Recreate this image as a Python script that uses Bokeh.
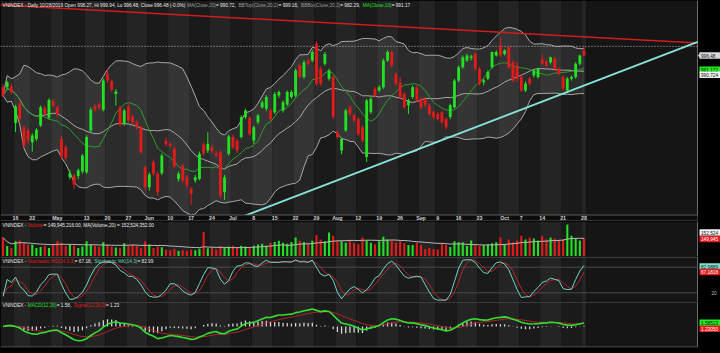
import pandas as pd
from bokeh.plotting import figure
from bokeh.layouts import column
from bokeh.models import Range1d
from bokeh.embed import file_html
from bokeh.resources import INLINE
from bokeh.core.properties import value

# ---------------- data ----------------
holidays = ["2019-04-15", "2019-04-30", "2019-05-01", "2019-09-02"]
dates = [d for d in pd.bdate_range("2019-04-10", "2019-10-28")
         if d.strftime("%Y-%m-%d") not in holidays]

opens = [984.3, 984.3, 984.6, 970.5, 977.9, 968.9, 967.6, 963.1, 964.4, 969.6,
         976.2, 972.5, 978.9, 976.6, 964.4, 961.2, 949.7, 950.3, 950.1, 951.9,
         951.6, 967.6, 976.9, 977.6, 975.6, 989.4, 986.6, 981.7, 976.4, 970.2,
         976.9, 973.0, 970.8, 968.9, 953.5, 945.8, 955.5, 951.0, 951.2, 963.8,
         962.5, 960.6, 949.0, 954.2, 949.7, 945.2, 948.4, 949.0, 962.3, 959.9,
         961.2, 958.9, 959.3, 943.9, 958.7, 965.1, 963.8, 965.1, 972.8, 972.5,
         963.8, 970.8, 976.6, 976.0, 975.3, 974.7, 981.1, 975.3, 977.6, 980.5,
         981.1, 992.6, 988.2, 994.6, 994.6, 1001.0, 991.4, 993.3, 987.5, 988.2,
         967.0, 959.9, 967.6, 976.6, 973.4, 972.1, 968.9, 957.4, 974.7, 983.7,
         983.0, 984.3, 994.6, 997.8, 989.4, 986.2, 981.7, 977.3, 980.5, 984.3,
         979.8, 979.8, 977.3, 974.7, 974.0, 974.7, 972.1, 972.8, 976.6, 986.9,
         992.0, 994.6, 995.5, 997.1, 991.4, 986.2, 987.5, 992.0, 996.5, 1000.3,
         997.1, 999.7, 993.9, 992.5, 988.2, 983.0, 987.5, 988.8, 988.2, 994.8,
         994.2, 993.9, 995.2, 991.4, 988.2, 983.0, 987.5, 988.2, 993.3, 998.27]
highs = [985.5, 986.8, 985.8, 977.5, 979.0, 969.8, 968.5, 966.5, 968.5, 977.2,
         977.0, 980.0, 979.8, 977.2, 965.5, 962.0, 952.5, 951.0, 953.0, 958.6,
         965.8, 976.5, 977.8, 978.5, 987.5, 991.2, 987.2, 983.5, 977.2, 976.0,
         977.6, 973.8, 971.5, 969.5, 954.2, 951.5, 956.5, 952.0, 958.8, 965.0,
         963.2, 961.5, 951.8, 955.0, 950.5, 946.0, 950.5, 959.5, 963.0, 967.0,
         962.2, 959.8, 960.0, 950.5, 966.0, 966.0, 964.5, 973.5, 976.0, 973.2,
         969.5, 974.0, 979.2, 981.2, 976.0, 982.4, 983.0, 979.2, 983.0, 983.2,
         991.4, 993.4, 994.6, 995.3, 998.5, 1002.0, 992.2, 997.8, 991.4, 988.9,
         967.8, 964.8, 976.0, 977.3, 974.0, 972.8, 969.6, 979.8, 980.5, 984.4,
         985.0, 995.3, 998.5, 998.5, 990.0, 988.2, 982.4, 979.8, 985.0, 985.0,
         980.5, 980.5, 978.0, 975.4, 974.7, 975.4, 972.8, 977.9, 987.5, 992.6,
         996.5, 997.2, 996.8, 997.8, 992.0, 987.5, 990.8, 998.0, 998.5, 1003.5,
         998.9, 1000.3, 994.6, 994.0, 988.9, 986.5, 988.2, 991.0, 991.8, 997.0,
         995.0, 996.0, 996.0, 992.0, 988.8, 988.2, 988.8, 993.9, 996.8, 999.94]
lows = [980.5, 983.5, 981.5, 967.0, 971.0, 961.0, 962.5, 959.5, 963.5, 969.0,
        973.2, 971.8, 976.5, 973.0, 956.8, 956.0, 948.8, 945.0, 949.0, 951.0,
        951.0, 967.0, 974.8, 975.5, 975.0, 986.0, 982.5, 977.2, 969.0, 969.5,
        970.8, 970.0, 968.0, 958.5, 944.8, 944.5, 950.0, 942.5, 950.5, 961.5,
        961.0, 953.0, 948.0, 947.5, 945.5, 938.8, 947.5, 948.5, 958.0, 959.0,
        959.0, 957.2, 941.5, 941.0, 958.0, 960.5, 959.0, 964.5, 972.0, 965.5,
        962.5, 970.0, 976.0, 975.2, 971.2, 974.0, 980.2, 974.5, 977.0, 979.8,
        980.5, 987.5, 987.5, 992.5, 994.0, 984.8, 984.8, 992.6, 986.8, 972.0,
        964.4, 958.5, 967.0, 973.2, 970.8, 965.5, 963.0, 955.5, 974.0, 980.4,
        982.4, 983.6, 994.0, 991.9, 984.8, 979.8, 975.8, 974.0, 979.8, 978.5,
        975.8, 976.5, 973.2, 972.0, 971.4, 970.0, 968.0, 972.0, 976.0, 986.2,
        991.4, 994.0, 994.6, 990.8, 985.0, 985.0, 987.0, 991.4, 996.0, 996.0,
        996.5, 991.4, 986.2, 986.2, 982.4, 982.4, 985.0, 988.0, 987.5, 993.0,
        992.0, 993.0, 990.6, 988.8, 982.8, 982.0, 986.8, 987.5, 992.6, 996.48]
closes = [981.1, 986.2, 982.4, 976.9, 972.1, 961.9, 963.8, 965.7, 967.9, 976.6,
          974.0, 979.4, 977.3, 973.8, 957.4, 957.1, 951.2, 946.9, 952.3, 958.0,
          965.1, 975.6, 975.6, 976.4, 986.9, 986.9, 983.3, 982.6, 969.8, 975.3,
          971.5, 970.8, 968.9, 959.3, 945.8, 950.7, 951.0, 943.9, 958.0, 962.3,
          961.9, 953.8, 951.0, 948.4, 946.5, 943.3, 949.7, 958.7, 958.9, 962.5,
          959.7, 958.0, 942.6, 949.7, 965.3, 961.2, 959.9, 972.8, 975.3, 966.3,
          968.9, 973.4, 978.5, 980.5, 972.1, 981.7, 982.4, 978.5, 982.4, 982.4,
          990.7, 988.2, 993.9, 993.3, 997.8, 985.6, 985.6, 997.1, 990.7, 972.8,
          965.1, 964.4, 975.3, 974.0, 971.5, 966.3, 963.8, 979.2, 979.8, 981.1,
          984.3, 994.6, 997.8, 992.6, 985.6, 980.5, 976.6, 979.2, 984.3, 979.2,
          976.6, 977.3, 974.0, 972.8, 972.1, 970.8, 968.9, 977.3, 986.9, 992.0,
          995.8, 996.5, 996.1, 991.4, 985.6, 987.0, 990.1, 997.8, 997.8, 996.5,
          998.4, 992.0, 986.9, 987.5, 983.0, 985.6, 985.6, 990.7, 991.4, 993.3,
          992.6, 995.8, 991.4, 989.4, 983.7, 987.5, 988.2, 993.3, 996.5, 996.48]
volumes = [155, 110, 100, 135, 140, 125, 115, 118, 100, 105, 112, 100, 118, 135, 128,
           110, 118, 112, 100, 108, 135, 118, 112, 106, 130, 118, 108, 102, 98, 125,
           112, 118, 112, 98, 135, 118,
           100, 108, 104, 92, 88, 96, 84, 88, 84, 92, 88, 96, 184, 98,
           100, 92, 112, 104, 108, 112,
           104, 112, 108, 104, 112, 118, 122, 112, 128, 132, 138, 128, 122, 132,
           155, 138, 132, 122, 138, 168,
           145, 135, 182, 165, 140, 135, 128, 140, 125, 120, 155, 140, 128, 120,
           135, 160, 145, 140, 128, 135, 125, 115, 115, 128, 115,
           95, 100, 95, 92, 125, 115, 105, 135, 130, 130, 110, 140, 120, 110,
           115, 120, 125, 130, 155, 120,
           145, 130, 140, 165, 145, 155, 150, 140, 165, 145, 155, 150, 140, 145,
           224, 165, 150, 140, 149.9]  # millions of shares

tick_dates = ["2019-04-16", "2019-04-22", "2019-05-02", "2019-05-13", "2019-05-20",
              "2019-05-27", "2019-06-03", "2019-06-10", "2019-06-17", "2019-06-24",
              "2019-07-01", "2019-07-08", "2019-07-15", "2019-07-22", "2019-07-29",
              "2019-08-05", "2019-08-12", "2019-08-19", "2019-08-26", "2019-09-03",
              "2019-09-09", "2019-09-16", "2019-09-23", "2019-10-01", "2019-10-07",
              "2019-10-14", "2019-10-21", "2019-10-28"]
tick_labels = ["16", "22", "May", "13", "20", "27", "Jun", "10", "17", "24", "Jul",
               "8", "15", "22", "29", "Aug", "12", "19", "26", "Sep", "9", "16", "23",
               "Oct", "7", "14", "21", "28"]

resist_level = 1000.0
red_trend_x = [-0.6, 166.2]
red_trend_y = [1015.9, 1001.3]
cyan_trend_x = [54.9, 166.2]
cyan_trend_y = [933.0, 1001.7]

# ---------------- indicators ----------------
n = len(dates)
idx = list(range(n))
c = pd.Series(closes)
hi = pd.Series(highs)
lo = pd.Series(lows)
ma10 = c.rolling(10, min_periods=1).mean()
ma20 = c.rolling(20, min_periods=1).mean()
sd20 = c.rolling(20, min_periods=1).std(ddof=0).fillna(0)
bb_up = ma20 + 2 * sd20
bb_lo = ma20 - 2 * sd20
hh = hi.rolling(14, min_periods=1).max()
ll = lo.rolling(14, min_periods=1).min()
rawk = 100 * (c - ll) / (hh - ll).replace(0, 1)
stk = rawk.rolling(3, min_periods=1).mean()
std_ = stk.rolling(3, min_periods=1).mean()
ema12 = c.ewm(span=12, adjust=False).mean()
ema26 = c.ewm(span=26, adjust=False).mean()
macd = ema12 - ema26
signal = macd.ewm(span=9, adjust=False).mean()
hist = macd - signal
vol = pd.Series(volumes)
vma = vol.rolling(20, min_periods=1).mean()

# ---------------- layout helpers ----------------
def px2i(px):
    return (px - 2.5) / 4.18

def pmain(y):
    return 996.48 - (y - 55) / 2.6

def pvol(y):
    return 60 + 5.3 * (255 - y)

def pst(y):
    return 80 - (y - 266.7) / 0.4267

def pmacd(y):
    return (326 - y) / 2.1

XS, XE = px2i(0), px2i(720)
END = px2i(697)
xr = Range1d(XS, XE)
FONT = value("Liberation Sans")

AW = {' ': 278, '!': 278, '%': 889, '(': 333, ')': 333, ',': 278, '-': 333,
      '.': 278, '/': 278, '=': 584, ':': 278}
for ch in "0123456789":
    AW[ch] = 556
AW.update(dict(A=667, B=667, C=722, D=722, E=667, F=611, G=778, H=722, I=278,
               J=500, K=667, L=556, M=833, N=722, O=778, P=667, Q=778, R=722,
               S=667, T=611, U=722, V=667, W=944, X=667, Y=667, Z=611))
AW.update(dict(a=556, b=556, c=500, d=556, e=556, f=278, g=556, h=556, i=222,
               j=222, k=500, l=222, m=833, n=556, o=556, p=556, q=556, r=333,
               s=500, t=278, u=556, v=500, w=722, x=500, y=500, z=500))

def em(s):
    return sum(AW.get(ch, 556) for ch in s) / 1000.0

WHITE = "#e8e8e8"
GRAY = "#9a9a9a"
GREEN = "#22e022"
RED = "#e21a1a"
TEAL = "#6fd6c4"

main_title = [("VNINDEX - Daily 10/28/2019 Open 998.27, Hi 999.94, Lo 996.48, Close 996.48 (-0.0%) ", WHITE),
              ("MA(Close,20)", GRAY), (" = 990.72, ", WHITE),
              ("BBTop(Close,20,2)", GRAY), (" = 999.16, ", WHITE),
              ("BBBot(Close,20,2)", GRAY), (" = 982.29, ", WHITE),
              ("MA(Close,10)", GREEN), (" = 991.17", WHITE)]
FS = 409.0 / sum(em(s) for s, _ in main_title)
FSS = "%.2fpx" % FS

def add_title(p, pieces, yd):
    xs, ts, cs = [], [], []
    x = 2.0
    for s, col in pieces:
        xs.append(px2i(x)); ts.append(s); cs.append(col)
        x += em(s) * FS
    p.text(x=xs, y=[yd] * len(xs), text=ts, text_color=cs, text_font=FONT,
           text_font_size=FSS, text_baseline="middle", text_align="left")

def mkfig(h, f, ytop, ybot, bottom=0):
    p = figure(width=720, height=h + bottom, x_range=xr,
               y_range=Range1d(f(ybot), f(ytop)), output_backend="svg",
               toolbar_location=None, x_axis_location=None, y_axis_location=None,
               min_border=0, min_border_bottom=bottom)
    p.grid.visible = False
    p.background_fill_color = "#000000"
    p.border_fill_color = "#000000"
    p.outline_line_color = None
    return p

# weekly alternating background bands
wk = [d.isocalendar()[1] for d in dates]
groups = []
s0 = 0
for k in range(1, n + 1):
    if k == n or wk[k] != wk[k - 1]:
        groups.append((s0, k - 1))
        s0 = k
band_cols = ["#1a1a1a", "#242424"]

def add_bands(p, yb, yt):
    L, R, C = [], [], []
    for g, (a, b) in enumerate(groups):
        L.append(XS if g == 0 else a - 0.5)
        R.append(b + 0.5)
        C.append(band_cols[g % 2])
    L.append(n - 0.5); R.append(END); C.append("#151515")
    L.append(END); R.append(XE); C.append("#000000")
    p.quad(left=L, right=R, bottom=yb, top=yt, fill_color=C, line_color=None)
    p.segment(x0=[END], x1=[END], y0=[yb], y1=[yt], line_color="#6a6a6a", line_width=1)

def add_box(p, f, ypix, text, bg, fg):
    p.quad(left=[px2i(699)], right=[px2i(724)], bottom=[f(ypix + 3.2)],
           top=[f(ypix - 3.2)], fill_color=bg, line_color=None)
    p.text(x=[px2i(700.5)], y=[f(ypix)], text=[text], text_color=fg, text_font=FONT,
           text_font_size=FSS, text_baseline="middle", text_align="left")

up = [closes[i] >= opens[i] for i in idx]
ccol = [GREEN if u else RED for u in up]

# ---------------- main price panel ----------------
pm = mkfig(221, pmain, 0, 221)
add_bands(pm, pmain(221), pmain(0))
pm.varea(x=idx, y1=bb_lo, y2=bb_up, fill_color="#ffffff", fill_alpha=0.08)
pm.line(idx, bb_up, line_color="#a8a8a8", line_width=1)
pm.line(idx, bb_lo, line_color="#a8a8a8", line_width=1)
pm.line(idx, ma20, line_color="#a8a8a8", line_width=1)
pm.line(idx, ma10, line_color="#2f9a2f", line_width=1)
pm.segment(x0=[XS], x1=[END], y0=[resist_level], y1=[resist_level],
           line_color="#bbbbbb", line_dash="1 2", line_width=1)
pm.segment(x0=idx, x1=idx, y0=lows, y1=highs, line_color=ccol, line_width=1)
bot = [min(opens[i], closes[i]) for i in idx]
top = [max(opens[i], closes[i]) + (0.3 if abs(opens[i] - closes[i]) < 0.3 else 0) for i in idx]
pm.vbar(x=idx, width=0.68, bottom=bot, top=top, fill_color=ccol, line_color=None)
pm.line(red_trend_x, red_trend_y, line_color="#d01e1e", line_width=1.5)
pm.line(cyan_trend_x, cyan_trend_y, line_color="#86e3da", line_width=2)
# date strip
pm.quad(left=[XS], right=[END], bottom=[pmain(221)], top=[pmain(214.5)],
        fill_color="#0c0c0c", line_color=None)
pm.segment(x0=[XS, XS], x1=[END, END], y0=[pmain(214.5), pmain(220.5)],
           y1=[pmain(214.5), pmain(220.5)], line_color="#5a5a5a", line_width=1)
date_index = {d.strftime("%Y-%m-%d"): i for i, d in enumerate(dates)}
tx = [date_index[t] for t in tick_dates]
pm.text(x=tx, y=[pmain(217.8)] * len(tx), text=tick_labels, text_color="#d0d0d0",
        text_font=FONT, text_font_size="5.3px", text_font_style="bold",
        text_baseline="middle", text_align="center")
add_title(pm, main_title, pmain(4.5))
# right price labels
pm.patch(x=[px2i(697.5), px2i(700), px2i(700)],
         y=[pmain(55), pmain(51.8), pmain(58.2)], fill_color="#d8d8d8", line_color=None)
add_box(pm, pmain, 55, "996.48", "#d8d8d8", "#111111")
add_box(pm, pmain, 69.3, "991.172", "#22ee22", "#111111")
add_box(pm, pmain, 74.3, "990.724", "#f0f0f0", "#111111")

# ---------------- volume panel ----------------
pv = mkfig(35, pvol, 221, 256)
add_bands(pv, pvol(256), pvol(221))
pv.vbar(x=idx, width=0.5, bottom=0, top=volumes, fill_color=ccol, line_color=None)
pv.line(idx, vma, line_color="#b8b8b8", line_width=1)
add_title(pv, [("VNINDEX - ", WHITE), ("Volume", RED),
               (" = 149,945,216.00, MA(Volume,20) = 152,524,352.00", WHITE)], pvol(224.5))
add_box(pv, pvol, 232, "152,524", "#f0f0f0", "#111111")
add_box(pv, pvol, 238.5, "149,945", "#e21a1a", "#ffffff")

# ---------------- stochastic panel ----------------
ps = mkfig(45, pst, 256, 301)
add_bands(ps, pst(301), pst(256))
ps.segment(x0=[XS, XS, XS], x1=[END, END, END], y0=[80, 20, pst(256.5)],
           y1=[80, 20, pst(256.5)], line_color=["#4a4a4a", "#4a4a4a", "#5a5a5a"], line_width=1)
ps.line(idx, std_, line_color="#b3242a", line_width=1)
ps.line(idx, stk, line_color=TEAL, line_width=1)
add_title(ps, [("VNINDEX - ", WHITE), ("Stochastic %D(14,3,3)", RED), (" = 67.18, ", WHITE),
               ("Stochastic %K(14,3)", TEAL), (" = 82.99", WHITE)], pst(260.5))
add_box(ps, pst, 266, "82.9889", "#7fe0cf", "#111111")
add_box(ps, pst, 271.5, "67.1818", "#e21a1a", "#ffffff")
ps.text(x=[px2i(711)], y=[20], text=["20"], text_color="#bbbbbb", text_font=FONT,
        text_font_size=FSS, text_baseline="middle", text_align="left")

# ---------------- MACD panel ----------------
pd_ = mkfig(46, pmacd, 301, 347, bottom=6)
add_bands(pd_, pmacd(347), pmacd(301))
pd_.segment(x0=[XS, XS], x1=[END, END], y0=[pmacd(301.5), pmacd(346.5)],
            y1=[pmacd(301.5), pmacd(346.5)], line_color="#5a5a5a", line_width=1)
pd_.vbar(x=idx, width=0.3, bottom=0, top=hist, fill_color="#d8d8d8", line_color=None)
pd_.line(idx, signal, line_color="#b3242a", line_width=1)
pd_.line(idx, macd, line_color="#33dd33", line_width=1.6)
add_title(pd_, [("VNINDEX - ", WHITE), ("MACD(12,26)", GREEN), (" = 1.58, ", WHITE),
                ("Signal(12,26,9)", RED), (" = 1.23", WHITE)], pmacd(305))
add_box(pd_, pmacd, 322.3, "1.58513", "#22ee22", "#111111")
add_box(pd_, pmacd, 328.3, "1.23050", "#e21a1a", "#ffffff")

layout = column(pm, pv, ps, pd_, spacing=0)
layout.background = "#000000"
open("out.html", "w").write(file_html(layout, INLINE))
